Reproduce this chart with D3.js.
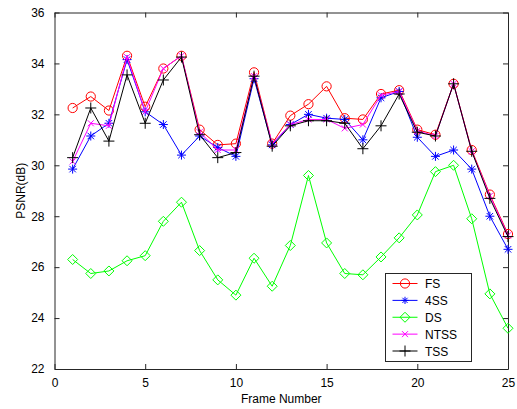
<!DOCTYPE html>
<html>
<head>
<meta charset="utf-8">
<script src="https://cdn.jsdelivr.net/npm/d3@7/dist/d3.min.js"></script>
<style>
  html, body { margin: 0; padding: 0; background: #fff; }
  svg { display: block; }
  text { font-family: "Liberation Sans", Arial, Helvetica, sans-serif; font-size: 12px; fill: #000; }
</style>
</head>
<body>
<svg id="chart" width="517" height="409"></svg>
<script>
// Frame index and PSNR (dB) for each block-matching search method
const frames = [1,2,3,4,5,6,7,8,9,10,11,12,13,14,15,16,17,18,19,20,21,22,23,24,25];
const fs   = [32.25,32.7,32.15,34.3,32.3,33.8,34.3,31.4,30.8,30.85,33.65,30.85,31.95,32.4,33.1,31.85,31.8,32.8,32.95,31.4,31.2,33.2,30.6,28.85,27.3];
const ss4  = [29.85,31.15,31.65,34.15,32.1,31.6,30.4,31.15,30.7,30.35,33.4,30.8,31.6,32.0,31.85,31.8,31.0,32.65,32.9,31.1,30.35,30.6,29.85,28.0,26.7];
const ds   = [26.3,25.75,25.85,26.25,26.45,27.8,28.55,26.65,25.5,24.9,26.35,25.25,26.85,29.6,26.95,25.75,25.7,26.4,27.15,28.05,29.75,30.0,27.9,24.95,23.6];
const ntss = [30.15,31.65,31.55,34.25,32.1,33.8,34.3,31.3,30.6,30.6,33.5,30.85,31.6,31.8,31.8,31.45,31.6,32.75,32.9,31.35,31.15,33.2,30.55,28.8,27.25];
const tss  = [30.3,32.25,30.95,33.55,31.65,33.35,34.25,31.2,30.3,30.5,33.5,30.75,31.55,31.75,31.75,31.65,30.65,31.55,32.8,31.3,31.15,33.2,30.55,28.7,27.2];

const seriesNames = ["FS", "4SS", "DS", "NTSS", "TSS"];
const seriesValues = [fs, ss4, ds, ntss, tss];
const seriesColors = ["#ff0000", "#0000ff", "#00ff00", "#ff00ff", "#000000"];
const seriesMarkers = ["circle", "star", "diamond", "cross", "plus"];

const xTicks = [0, 5, 10, 15, 20, 25];
const yTicks = [22, 24, 26, 28, 30, 32, 34, 36];
const xLabel = "Frame Number";
const yLabel = "PSNR(dB)";

const W = 517, H = 409;
const margin = { left: 54.5, right: 9, top: 12.5, bottom: 40 };
const svg = d3.select("#chart");

const x = d3.scaleLinear().domain([0, 25]).range([margin.left, W - margin.right]);
const y = d3.scaleLinear().domain([22, 36]).range([H - margin.bottom, margin.top]);

const axisColor = "#262626";
const tickLen = 5;

// Inward ticks on all four sides, MATLAB-style boxed axes
const gB = svg.append("g").attr("transform", `translate(0,${y(22)})`)
  .call(d3.axisBottom(x).tickValues(xTicks).tickSizeInner(-tickLen).tickSizeOuter(0).tickPadding(9));
const gT = svg.append("g").attr("transform", `translate(0,${y(36)})`)
  .call(d3.axisTop(x).tickValues(xTicks).tickSizeInner(-tickLen).tickSizeOuter(0).tickFormat(""));
const gL = svg.append("g").attr("transform", `translate(${x(0)},0)`)
  .call(d3.axisLeft(y).tickValues(yTicks).tickSizeInner(-tickLen).tickSizeOuter(0).tickPadding(10));
const gR = svg.append("g").attr("transform", `translate(${x(25)},0)`)
  .call(d3.axisRight(y).tickValues(yTicks).tickSizeInner(-tickLen).tickSizeOuter(0).tickFormat(""));

[gB, gT, gL, gR].forEach(g => {
  g.select(".domain").attr("stroke", axisColor).attr("stroke-width", 1);
  g.selectAll(".tick line").attr("stroke", axisColor);
  g.selectAll("text").attr("font-size", 12).attr("font-family", null).attr("fill", "#000");
});

// Axis titles
svg.append("text")
  .attr("x", (x(0) + x(25)) / 2).attr("y", 403)
  .attr("text-anchor", "middle").text(xLabel);
svg.append("text")
  .attr("transform", `translate(25,${(y(22) + y(36)) / 2}) rotate(-90)`)
  .attr("text-anchor", "middle").text(yLabel);

// Marker shapes
function markerPath(kind, r) {
  switch (kind) {
    case "circle":
      return `M${-r},0A${r},${r} 0 1,0 ${r},0A${r},${r} 0 1,0 ${-r},0Z`;
    case "diamond":
      return `M0,${-r}L${r},0L0,${r}L${-r},0Z`;
    case "plus":
      return `M${-r},0L${r},0M0,${-r}L0,${r}`;
    case "cross":
      return `M${-r},${-r}L${r},${r}M${-r},${r}L${r},${-r}`;
    case "star": {
      const d = r * 0.72;
      return `M${-r},0L${r},0M0,${-r}L0,${r}M${-d},${-d}L${d},${d}M${-d},${d}L${d},${-d}`;
    }
  }
}
const markerSize = { circle: 4.6, diamond: 5, plus: 5.5, cross: 3, star: 4.5 };

const line = d3.line().x(d => x(d[0])).y(d => y(d[1]));
const plot = svg.append("g");

seriesValues.forEach((vals, i) => {
  const pts = frames.map((f, j) => [f, vals[j]]);
  const g = plot.append("g");
  g.append("path").datum(pts)
    .attr("d", line)
    .attr("fill", "none")
    .attr("stroke", seriesColors[i])
    .attr("stroke-width", 1);
  g.selectAll("path.m").data(pts).enter().append("path")
    .attr("class", "m")
    .attr("transform", d => `translate(${x(d[0])},${y(d[1])})`)
    .attr("d", markerPath(seriesMarkers[i], markerSize[seriesMarkers[i]]))
    .attr("fill", "none")
    .attr("stroke", seriesColors[i])
    .attr("stroke-width", 1);
});

// Legend
const lg = svg.append("g");
lg.append("rect")
  .attr("x", 385.5).attr("y", 273.5).attr("width", 86).attr("height", 88)
  .attr("fill", "#fff").attr("stroke", axisColor).attr("stroke-width", 1);
const legendY = d3.scalePoint().domain(seriesNames).range([283.5, 351]);
seriesNames.forEach((name, i) => {
  const yy = legendY(name);
  lg.append("line")
    .attr("x1", 392.5).attr("x2", 417.5).attr("y1", yy).attr("y2", yy)
    .attr("stroke", seriesColors[i]).attr("stroke-width", 1);
  lg.append("path")
    .attr("transform", `translate(405,${yy})`)
    .attr("d", markerPath(seriesMarkers[i], markerSize[seriesMarkers[i]] * (seriesMarkers[i] === "star" ? 0.8 : 1)))
    .attr("fill", "none").attr("stroke", seriesColors[i]).attr("stroke-width", 1);
  lg.append("text")
    .attr("x", 425).attr("y", yy + 4.5)
    .text(name);
});
</script>
</body>
</html>
